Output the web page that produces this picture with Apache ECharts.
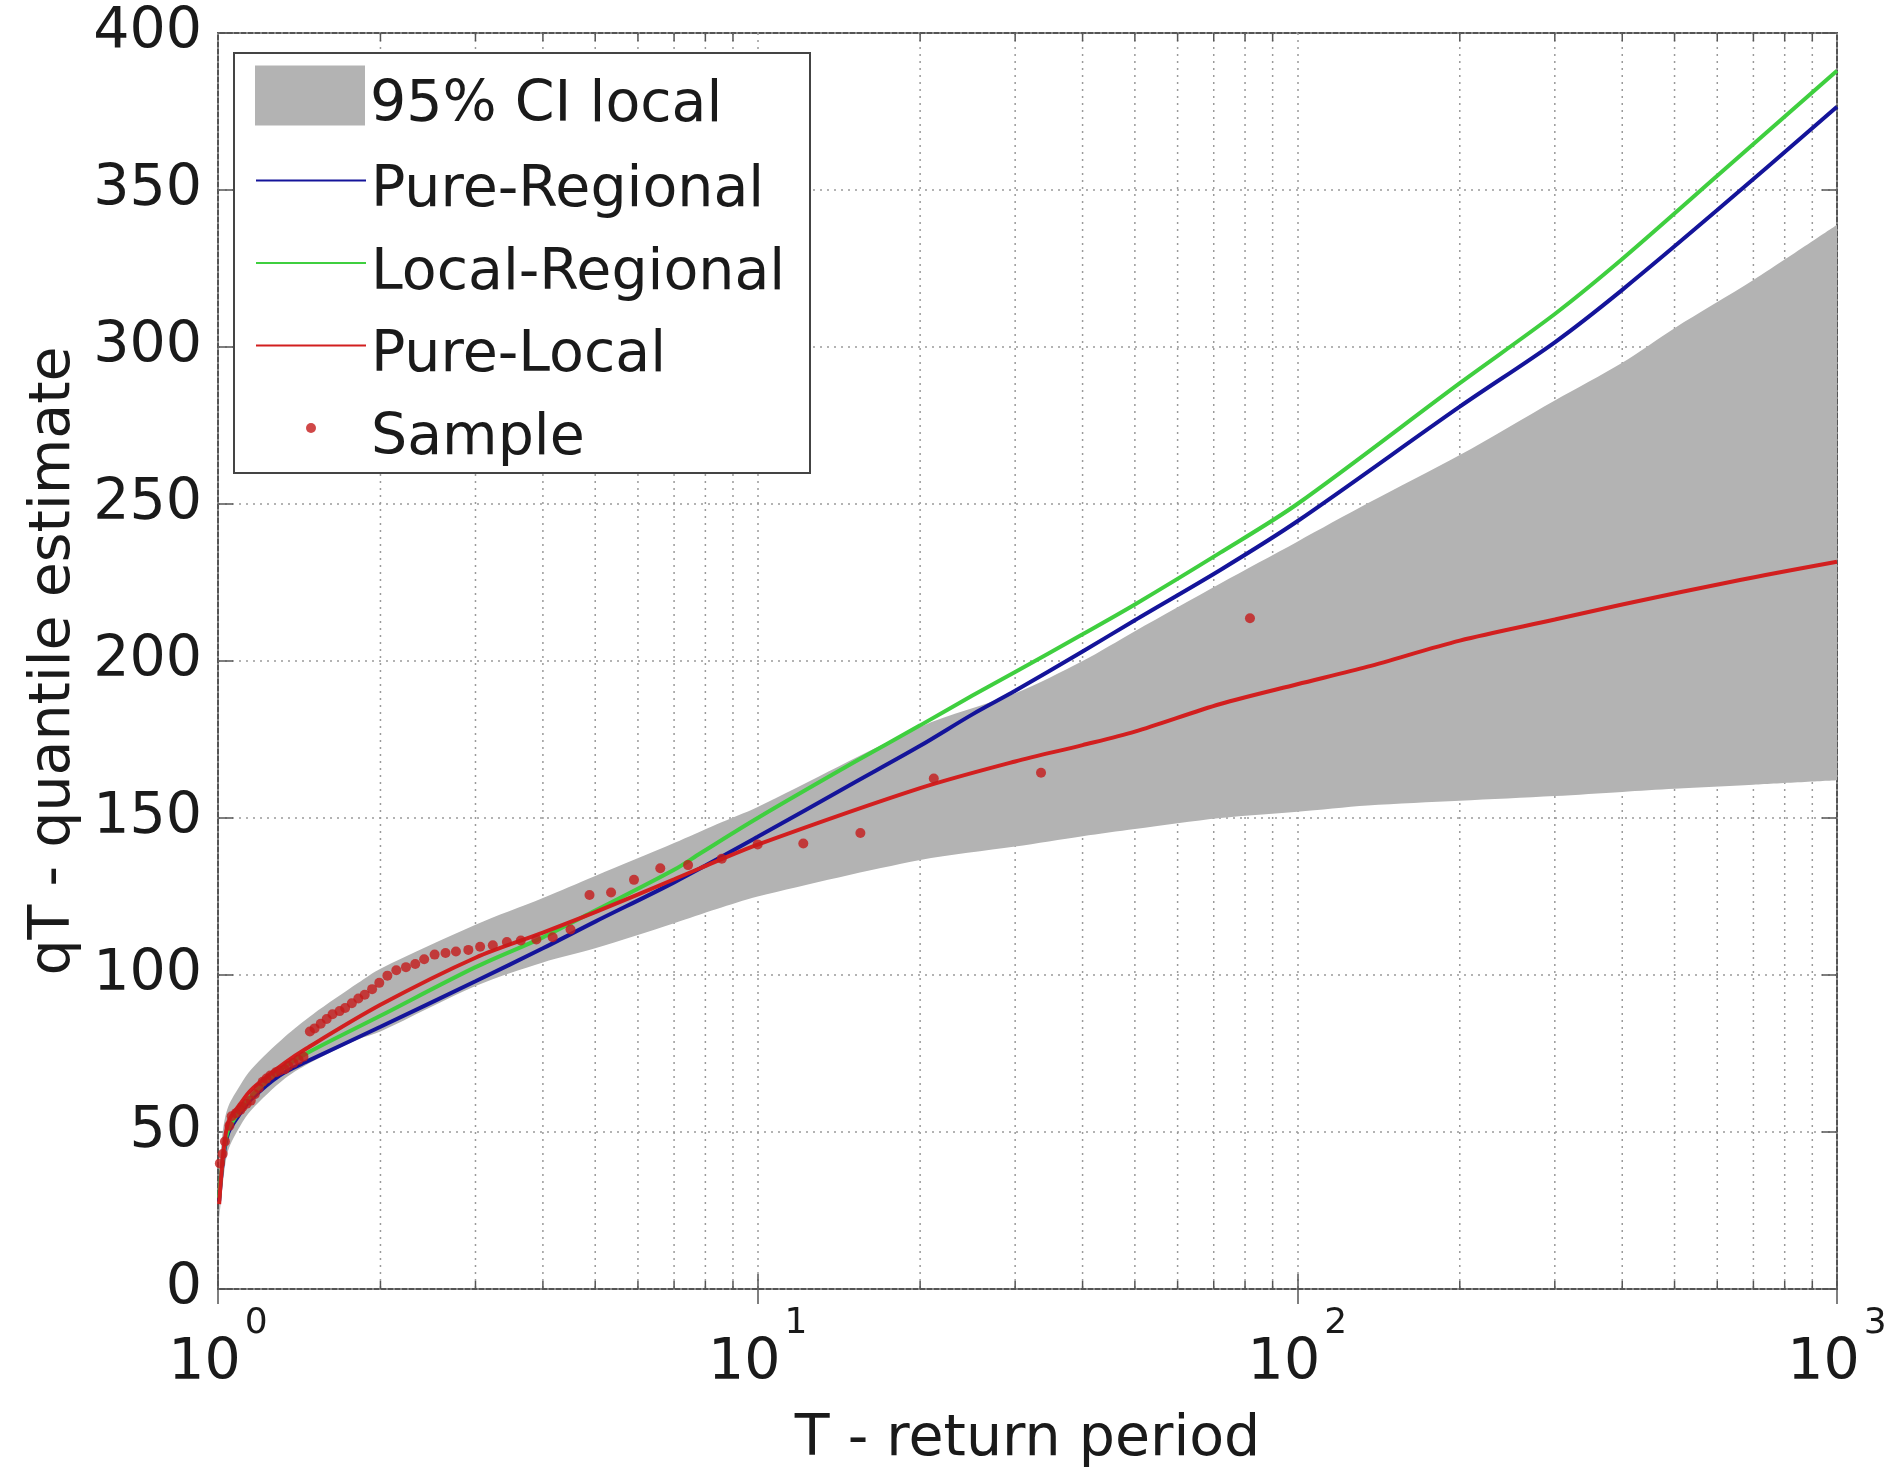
<!DOCTYPE html>
<html>
<head>
<meta charset="utf-8">
<title>qT - quantile estimate vs return period</title>
<script src="https://cdn.jsdelivr.net/npm/echarts@6/dist/echarts.min.js"></script>
<style>
  html, body { margin: 0; padding: 0; background: #fff; }
  #chart { width: 1888px; height: 1478px; }
</style>
</head>
<body>
<div id="chart"></div>
<script>
// values (T = return period, q = quantile)
const ciT     = [1.005, 1.02, 1.044, 1.1, 1.153, 1.33, 1.5, 1.82, 2, 3, 4, 5, 7, 8.4, 10, 20, 30, 40, 50, 72, 100, 135, 200, 300, 400, 500, 700, 1000]
const ciLower = [22, 33, 44, 52, 57, 67, 72.5, 79.5, 82, 96.5, 104, 108.5, 116.5, 121, 125, 136.6, 140.9, 144.2, 146.5, 150, 152, 154, 155.5, 157, 158.3, 159.3, 160.6, 162]
const ciUpper = [36, 50, 58, 65, 70, 80.3, 87.5, 97.5, 102, 116, 124.5, 131.5, 142, 148, 153.5, 179, 189.7, 200, 209.5, 224.7, 238, 250.2, 265.6, 283, 295, 306, 321.3, 338.9]

const regT = [1.005, 1.02, 1.044, 1.1, 1.153, 1.3, 1.458, 2, 3, 4, 5, 7, 10, 15, 20, 25, 30, 40, 50, 72, 100, 200, 300, 400, 600, 1000]
const pureRegional = [28, 40, 49.6, 56, 60.5, 68, 72.4, 83.5, 98, 108.5, 117, 129.5, 144, 161, 173, 183, 190.5, 203, 213, 229, 244.5, 281, 301.5, 318.2, 343.6, 376.5]

const locRegT = [1.005, 1.02, 1.044, 1.1, 1.153, 1.3, 1.458, 2, 3, 4, 5, 7, 7.82, 10, 15, 20, 25, 30, 40, 50, 72, 100, 200, 300, 400, 600, 1000]
const localRegional = [29, 41, 50.5, 57, 61.5, 69.5, 75, 87, 102.5, 112, 120.5, 133.5, 138.7, 150, 167.5, 179.5, 189, 196.5, 208.5, 218, 234.5, 250, 288.5, 310.5, 328, 354.5, 388]

const locT = [1.005, 1.02, 1.044, 1.1, 1.153, 1.33, 1.458, 2, 3, 4, 5, 7, 7.82, 10, 20, 30, 40, 50, 72, 100, 135, 200, 300, 400, 661, 1000]
const pureLocal = [27, 41, 53, 59, 63.5, 72, 76.6, 90.5, 105.5, 113.5, 120, 130.5, 134, 141.5, 159.5, 168, 173.2, 177.5, 186.3, 192.6, 198.2, 206.5, 213.2, 218, 225.8, 231.6]

const sampleT = [1.008, 1.02, 1.03, 1.05, 1.06, 1.08, 1.10, 1.11, 1.13, 1.15, 1.17, 1.19, 1.21, 1.23, 1.25, 1.28, 1.30, 1.33, 1.35, 1.38, 1.41, 1.44,
  1.48, 1.51, 1.55, 1.59, 1.63, 1.68, 1.72, 1.77, 1.82, 1.87, 1.93, 1.99, 2.06, 2.14, 2.23, 2.32, 2.41, 2.52, 2.64, 2.76, 2.91,
  3.06, 3.23, 3.43, 3.64, 3.89, 4.17, 4.5, 4.88, 5.35, 5.9, 6.6, 7.43, 8.58, 10, 12.15, 15.5, 21.2, 33.5, 81.7]
const sampleQ = [40, 43, 47, 52, 55, 56, 57, 58, 59, 60, 62, 64, 66, 67, 68, 69, 69.5, 70, 71, 72, 73, 74,
  82, 83, 84.5, 86, 87.5, 88.5, 89.5, 91, 92.5, 93.7, 95.5, 97.5, 99.8, 101.5, 102.5, 103.5, 105, 106.5, 107, 107.5, 108,
  109, 109.5, 110.5, 111, 111.3, 112, 114.5, 125.5, 126.3, 130.3, 134, 135, 137, 141.6, 141.9, 145.2, 162.6, 164.4, 213.6]

// minor log grid positions (2..9 per decade)
const minorTicks = [2, 3, 4, 5, 6, 7, 8, 9, 20, 30, 40, 50, 60, 70, 80, 90, 200, 300, 400, 500, 600, 700, 800, 900]

const FONT = 'DejaVu Sans'
const FS = 57
const TXT = '#1a1a1a'
const AXIS = '#555'
const GRIDC = '#9a9a9a'
const BAND = '#b3b3b3'

function pairs (xs, ys) {
  return xs.map((x, i) => [x, ys[i]])
}

// legend text sits a little lower than its icon, as in the figure
const legendText = {
  rich: {
    t: {fontSize: FS, fontFamily: FONT, color: TXT, lineHeight: 50, padding: [22, 0, 0, 0]}
  }
}

let chart = echarts.init(document.getElementById('chart'), null, {renderer: 'canvas'})

let option = {
  backgroundColor: '#fff',
  animation: false,
  grid: {
    left: 218,
    right: 51,
    top: 33,
    bottom: 189,
    outerBoundsMode: 'none',
    show: true,
    borderColor: AXIS,
    borderWidth: 2,
    backgroundColor: '#fff'
  },
  xAxis: [
    {
      type: 'log',
      logBase: 10,
      min: 1,
      max: 1000,
      splitNumber: 3,
      position: 'bottom',
      axisLine: {show: false},
      axisTick: {inside: true, length: 15, lineStyle: {color: AXIS, width: 1.5}},
      axisLabel: {
        margin: 17,
        showMinLabel: true,
        showMaxLabel: true,
        formatter: function (v) {
          return '{b|10}{s|' + Math.round(Math.log10(v)) + '}'
        },
        rich: {
          b: {fontSize: FS, fontFamily: FONT, color: TXT, lineHeight: 116},
          s: {fontSize: 36, fontFamily: FONT, color: TXT, lineHeight: 40, verticalAlign: 'top', padding: [0, 0, 0, 4]}
        }
      },
      splitLine: {show: true, lineStyle: {color: GRIDC, width: 1.5, type: [2, 5]}},
      name: 'T - return period',
      nameLocation: 'middle',
      nameGap: 151,
      nameTextStyle: {fontSize: FS, fontFamily: FONT, color: TXT, verticalAlign: 'middle'}
    },
    {
      type: 'log',
      logBase: 10,
      min: 1,
      max: 1000,
      splitNumber: 3,
      position: 'top',
      axisLine: {show: false},
      axisTick: {inside: true, length: 15, lineStyle: {color: AXIS, width: 1.5}},
      axisLabel: {show: false},
      splitLine: {show: false}
    }
  ],
  yAxis: [
    {
      type: 'value',
      min: 0,
      max: 400,
      interval: 50,
      axisLine: {show: false},
      axisTick: {inside: true, length: 15, lineStyle: {color: AXIS, width: 1.5}},
      axisLabel: {fontSize: FS, fontFamily: FONT, color: TXT, margin: 16},
      splitLine: {show: true, lineStyle: {color: GRIDC, width: 1.5, type: [2, 5]}},
      name: 'qT - quantile estimate',
      nameLocation: 'middle',
      nameRotate: 90,
      nameGap: 164,
      nameTextStyle: {fontSize: FS, fontFamily: FONT, color: TXT, verticalAlign: 'middle'}
    },
    {
      type: 'value',
      min: 0,
      max: 400,
      interval: 50,
      position: 'right',
      axisLine: {show: false},
      axisTick: {inside: true, length: 15, lineStyle: {color: AXIS, width: 1.5}},
      axisLabel: {show: false},
      splitLine: {show: false}
    }
  ],
  legend: [
    {
      data: [{name: '95% CI local', icon: 'rect'}],
      left: 255,
      top: 56,
      padding: 0,
      itemWidth: 110,
      itemHeight: 60,
      itemTextGap: 15,
      itemStyle: {borderWidth: 0},
      formatter: name => '{t|' + name + '}',
      textStyle: legendText,
      selectedMode: false,
      z: 10
    },
    {
      data: [
        {name: 'Pure-Regional', itemStyle: {opacity: 0}},
        {name: 'Local-Regional', itemStyle: {opacity: 0}},
        {name: 'Pure-Local', itemStyle: {opacity: 0}},
        {name: 'Sample', icon: 'circle'}
      ],
      orient: 'vertical',
      left: 255,
      top: 141,
      padding: 0,
      itemWidth: 110,
      itemHeight: 10,
      itemGap: 3.5,
      itemTextGap: 15,
      formatter: name => '{t|' + name + '}',
      textStyle: legendText,
      selectedMode: false,
      z: 10
    }
  ],
  graphic: [
    {
      type: 'rect',
      shape: {x: 234, y: 53, width: 576, height: 420},
      style: {fill: '#fff', stroke: '#444', lineWidth: 2},
      z: 5,
      silent: true
    }
  ],
  series: [
    {
      // dotted minor grid lines and small ticks at 2..9 of each decade
      name: 'minorGrid',
      type: 'custom',
      silent: true,
      z: 1,
      clip: false,
      data: minorTicks.map(t => [t, 0]),
      encode: {x: 0, y: 1},
      renderItem: function (params, api) {
        let x = api.coord([api.value(0), 0])[0]
        let top = params.coordSys.y
        let bottom = params.coordSys.y + params.coordSys.height
        return {
          type: 'group',
          children: [
            {type: 'line', shape: {x1: x, y1: top, x2: x, y2: bottom}, style: {stroke: GRIDC, lineWidth: 1.5, lineDash: [2, 5]}},
            {type: 'line', shape: {x1: x, y1: bottom, x2: x, y2: bottom - 8}, style: {stroke: AXIS, lineWidth: 1.5}},
            {type: 'line', shape: {x1: x, y1: top, x2: x, y2: top + 8}, style: {stroke: AXIS, lineWidth: 1.5}}
          ]
        }
      }
    },
    {
      // lower bound of the band; rows are [q, T] so the stack runs on y
      name: 'ciBase',
      type: 'line',
      stack: 'ci',
      data: ciT.map((t, i) => [ciLower[i], t]),
      encode: {x: 1, y: 0},
      symbol: 'none',
      smooth: 0.3,
      lineStyle: {opacity: 0},
      silent: true,
      z: 2
    },
    {
      name: '95% CI local',
      type: 'line',
      stack: 'ci',
      data: ciT.map((t, i) => [ciUpper[i] - ciLower[i], t]),
      encode: {x: 1, y: 0},
      symbol: 'none',
      smooth: 0.3,
      color: BAND,
      itemStyle: {color: BAND},
      lineStyle: {opacity: 0},
      areaStyle: {color: BAND, opacity: 1},
      silent: true,
      z: 2
    },
    {
      name: 'Pure-Regional',
      type: 'line',
      data: pairs(regT, pureRegional),
      symbol: 'none',
      smooth: 0.3,
      color: '#14149a',
      lineStyle: {width: 4, color: '#14149a'},
      z: 3
    },
    {
      name: 'Local-Regional',
      type: 'line',
      data: pairs(locRegT, localRegional),
      symbol: 'none',
      smooth: 0.3,
      color: '#3fcf3f',
      lineStyle: {width: 4, color: '#3fcf3f'},
      z: 3
    },
    {
      name: 'Pure-Local',
      type: 'line',
      data: pairs(locT, pureLocal),
      symbol: 'none',
      smooth: 0.3,
      color: '#d21f1f',
      lineStyle: {width: 4, color: '#d21f1f'},
      z: 3
    },
    {
      name: 'Sample',
      type: 'scatter',
      data: pairs(sampleT, sampleQ),
      symbol: 'circle',
      symbolSize: 10,
      color: '#c41a1a',
      itemStyle: {color: '#c41a1a'},
      z: 4
    }
  ]
}

chart.setOption(option)
</script>
</body>
</html>
